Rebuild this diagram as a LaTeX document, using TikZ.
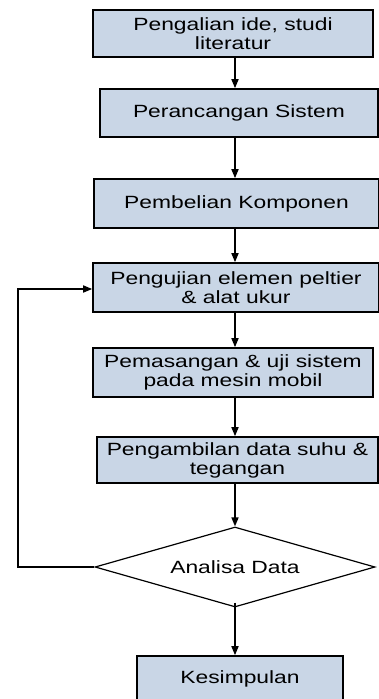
\documentclass[tikz,border=0pt]{standalone}
\usepackage{fontspec}
\setmainfont{Liberation Sans}[FakeStretch=1.29]
\usetikzlibrary{shapes.geometric,arrows.meta}
\definecolor{boxfill}{RGB}{201,214,230}
\tikzset{
  stepbox/.style={draw=black, fill=boxfill, line width=1.6pt, align=center,
    inner sep=0pt, font=\fontsize{17.7}{19}\selectfont},
  decision/.style={draw=black, fill=white, diamond, aspect=3.5, line width=1.2pt, inner sep=0pt,
    minimum width=280pt, minimum height=80pt, font=\fontsize{17.7}{19}\selectfont},
  arr/.style={line width=1.6pt, -{Triangle[length=9pt,width=7pt]}}
}
\begin{document}
\begin{tikzpicture}[x=1pt,y=-1pt]
\useasboundingbox (0,0) rectangle (379,699);
\node[stepbox, minimum width=280pt, minimum height=47pt] (b1) at (233,33.5) {Pengalian ide, studi\\literatur};
\node[stepbox, minimum width=278pt, minimum height=48pt] (b2) at (239,113) {Perancangan Sistem};
\node[stepbox, minimum width=285pt, minimum height=49pt] (b3) at (236.5,203.5) {Pembelian Komponen};
\node[stepbox, minimum width=286pt, minimum height=49pt] (b4) at (236,287.5) {Pengujian elemen peltier\\\& alat ukur};
\node[stepbox, minimum width=280pt, minimum height=49pt] (b5) at (233,372.5) {Pemasangan \& uji sistem\\pada mesin mobil};
\node[stepbox, minimum width=281pt, minimum height=46pt] (b6) at (237.5,460) {Pengambilan data suhu \&\\tegangan};
\node[decision] (d) at (235,567) {Analisa Data};
\node[stepbox, minimum width=206pt, minimum height=46pt] (b7) at (240,679) {Kesimpulan};
\coordinate (fb) at (18,289);
\draw[arr] (b1.south -| d.north) -- (b2.north -| d.north);
\draw[arr] (b2.south -| d.north) -- (b3.north -| d.north);
\draw[arr] (b3.south -| d.north) -- (b4.north -| d.north);
\draw[arr] (b4.south -| d.north) -- (b5.north -| d.north);
\draw[arr] (b5.south -| d.north) -- (b6.north -| d.north);
\draw[arr] (b6.south -| d.north) -- (d.north);
\draw[arr] ([yshift=5pt]d.south) -- (b7.north -| d.south);
\draw[arr] (d.west) -| (fb) -- (fb -| b4.west);
\end{tikzpicture}
\end{document}
